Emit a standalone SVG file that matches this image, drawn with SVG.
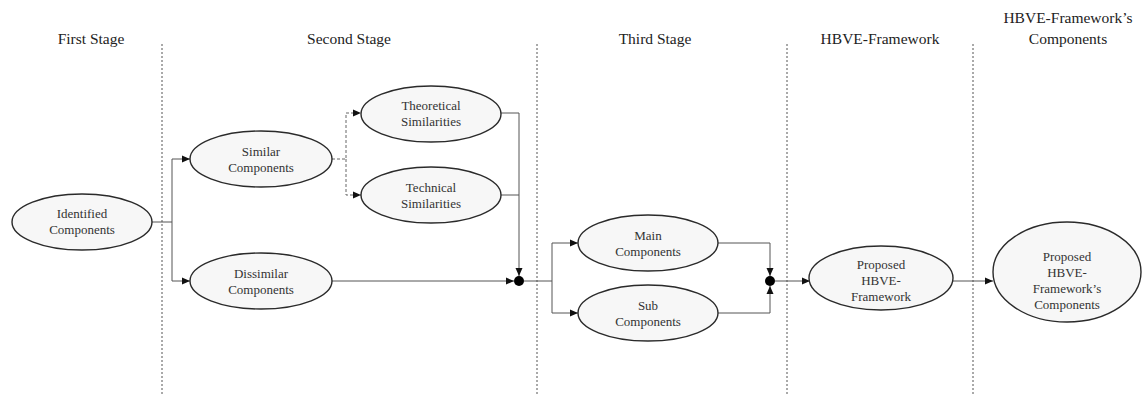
<svg xmlns="http://www.w3.org/2000/svg" width="1146" height="396" viewBox="0 0 1146 396">
  <style>
    .bg { fill: #ffffff; }
    .divider { stroke: #555; stroke-width: 1; stroke-dasharray: 2 2; fill: none; }
    text { font-family: 'Liberation Serif', 'Times New Roman', 'DejaVu Serif', serif; }
    .head { font-size: 15.5px; fill: #222; text-anchor: middle; }
    .node ellipse { fill: #f7f7f7; stroke: #2a2a2a; stroke-width: 1.4; }
    .node text { font-size: 13px; fill: #333; text-anchor: middle; }
    .link { stroke: #555; stroke-width: 1; fill: none; }
    .dash { stroke: #666; stroke-width: 1; stroke-dasharray: 3 2; fill: none; }
    .joint { fill: #000; }
  </style>
  <defs>
    <marker id="arrow" viewBox="0 0 8 8" refX="8" refY="4" markerWidth="8" markerHeight="8" markerUnits="userSpaceOnUse" orient="auto">
      <path d="M0,0.5 L8,4 L0,7.5 Z" fill="#111"/>
    </marker>
  </defs>

  <rect class="bg" x="0" y="0" width="1146" height="396"/>

  <!-- stage separators -->
  <g id="dividers">
    <line class="divider" x1="162" y1="44" x2="162" y2="396"/>
    <line class="divider" x1="537" y1="44" x2="537" y2="396"/>
    <line class="divider" x1="787" y1="44" x2="787" y2="396"/>
    <line class="divider" x1="973" y1="44" x2="973" y2="396"/>
  </g>

  <!-- stage headings -->
  <g id="headings">
    <text class="head" x="91" y="44">First Stage</text>
    <text class="head" x="349" y="44">Second Stage</text>
    <text class="head" x="655" y="44">Third Stage</text>
    <text class="head" x="880" y="44">HBVE-Framework</text>
    <text class="head" x="1068" y="23">HBVE-Framework’s</text>
    <text class="head" x="1068" y="44">Components</text>
  </g>

  <!-- connectors -->
  <g id="connectors">
    <!-- identified -> similar / dissimilar -->
    <polyline class="link" points="152,222 172,222 172,159 190,159" marker-end="url(#arrow)"/>
    <polyline class="link" points="172,222 172,281 190,281" marker-end="url(#arrow)"/>
    <!-- similar -> theoretical / technical -->
    <polyline class="dash" points="332,159 346,159 346,113 361,113" marker-end="url(#arrow)"/>
    <polyline class="dash" points="346,159 346,195 361,195" marker-end="url(#arrow)"/>
    <!-- into first joint -->
    <polyline class="link" points="501,113 519,113 519,276" marker-end="url(#arrow)"/>
    <line class="link" x1="501" y1="195" x2="519" y2="195"/>
    <line class="link" x1="332" y1="281" x2="514" y2="281" marker-end="url(#arrow)"/>
    <!-- first joint -> main / sub -->
    <polyline class="link" points="524,281 552,281 552,243 578,243" marker-end="url(#arrow)"/>
    <polyline class="link" points="552,281 552,313 578,313" marker-end="url(#arrow)"/>
    <!-- main / sub -> second joint -->
    <polyline class="link" points="718,243 770,243 770,276" marker-end="url(#arrow)"/>
    <polyline class="link" points="718,313 770,313 770,286" marker-end="url(#arrow)"/>
    <!-- second joint -> framework -> components -->
    <line class="link" x1="775" y1="281" x2="810" y2="281" marker-end="url(#arrow)"/>
    <line class="link" x1="953" y1="281" x2="993" y2="281" marker-end="url(#arrow)"/>
    <circle class="joint" cx="519" cy="281" r="5"/>
    <circle class="joint" cx="770" cy="281" r="5"/>
  </g>

  <g id="identified" class="node">
    <ellipse cx="82" cy="222" rx="70" ry="28"/>
    <text x="82" y="218">Identified</text>
    <text x="82" y="234">Components</text>
  </g>

  <g id="similar" class="node">
    <ellipse cx="261" cy="159" rx="71" ry="28"/>
    <text x="261" y="156">Similar</text>
    <text x="261" y="172">Components</text>
  </g>

  <g id="dissimilar" class="node">
    <ellipse cx="261" cy="281" rx="71" ry="28"/>
    <text x="261" y="278">Dissimilar</text>
    <text x="261" y="294">Components</text>
  </g>

  <g id="theoretical" class="node">
    <ellipse cx="431" cy="114" rx="70" ry="28"/>
    <text x="431" y="110">Theoretical</text>
    <text x="431" y="126">Similarities</text>
  </g>

  <g id="technical" class="node">
    <ellipse cx="431" cy="195" rx="70" ry="28"/>
    <text x="431" y="192">Technical</text>
    <text x="431" y="208">Similarities</text>
  </g>

  <g id="main" class="node">
    <ellipse cx="648" cy="243" rx="70" ry="28"/>
    <text x="648" y="240">Main</text>
    <text x="648" y="256">Components</text>
  </g>

  <g id="sub" class="node">
    <ellipse cx="648" cy="313" rx="70" ry="28"/>
    <text x="648" y="310">Sub</text>
    <text x="648" y="326">Components</text>
  </g>

  <g id="framework" class="node">
    <ellipse cx="881" cy="278" rx="72" ry="32"/>
    <text x="881" y="269">Proposed</text>
    <text x="881" y="285">HBVE-</text>
    <text x="881" y="301">Framework</text>
  </g>

  <g id="framework-components" class="node">
    <ellipse cx="1067" cy="272" rx="74" ry="50"/>
    <text x="1067" y="261">Proposed</text>
    <text x="1067" y="277">HBVE-</text>
    <text x="1067" y="293">Framework’s</text>
    <text x="1067" y="309">Components</text>
  </g>
</svg>
